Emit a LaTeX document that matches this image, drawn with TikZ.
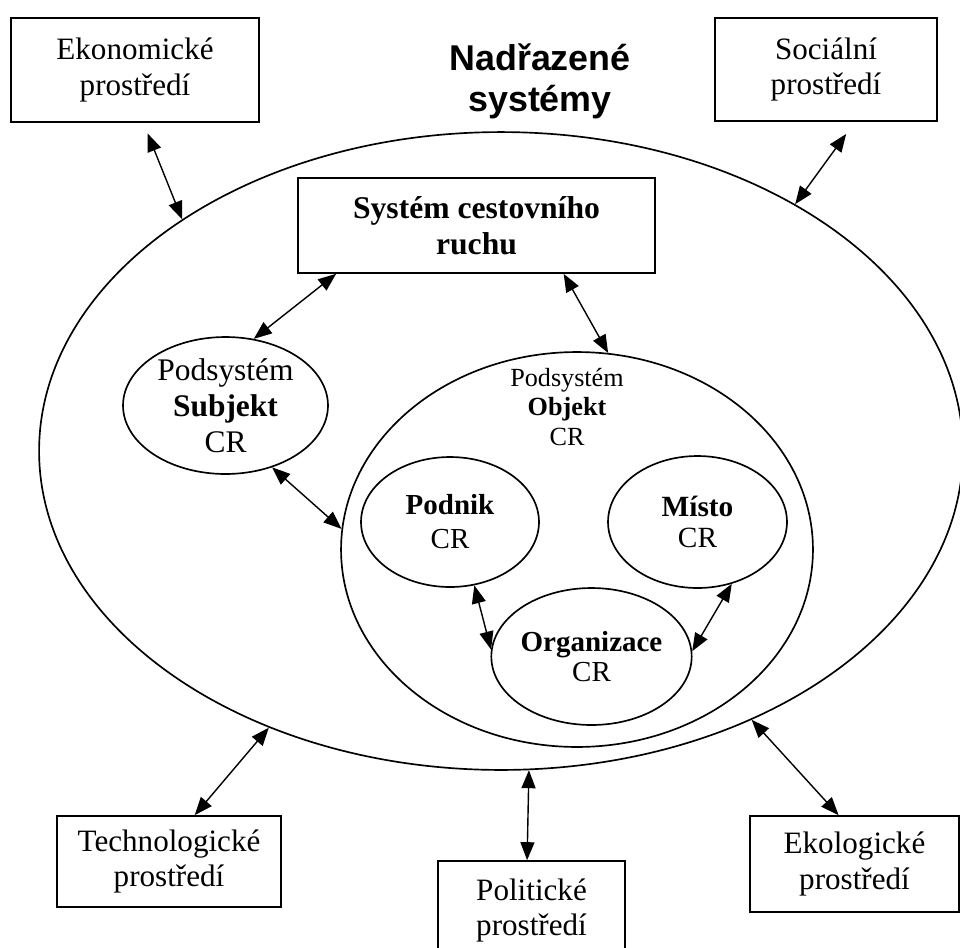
\documentclass[tikz,border=0pt]{standalone}
\usepackage{fontspec}
\setmainfont{Liberation Serif}
\newfontfamily\nadpisfont{Liberation Sans}
\usepackage{tikz}
\usetikzlibrary{arrows.meta}
\usetikzlibrary{shapes,shapes.geometric}

\begin{document}
\begin{tikzpicture}[x=0.02cm,y=-0.02cm,line width=0.95pt,
	>={Triangle[length=0.36cm,width=0.28cm]},
	prostredi/.style={draw,rectangle,align=center,inner sep=0pt,font=\fontsize{17.7}{20.2}\selectfont},
	elipsa/.style={draw,ellipse,inner sep=0pt,align=center},
	vazba/.style={<->,line width=0.8pt}]
			\useasboundingbox (0,0) rectangle (960,947);
			% nadrazene systemy
			\node[elipsa,minimum width=18.48cm,minimum height=12.76cm] (nadsys) at (501,451) {};
			\node[font=\nadpisfont\bfseries\fontsize{20.4}{23.2}\selectfont,align=center] (nadpis) at (540,81) {Nadřazené\\systémy};
			% prostredi
			\node[prostredi,minimum width=4.96cm,minimum height=2.08cm] (ekon) at (135,70) {Ekonomické\\prostředí};
			\node[prostredi,minimum width=4.44cm,minimum height=2.06cm] (soc) at (826,69.5) {Sociální\\prostředí};
			\node[prostredi,minimum width=4.48cm,minimum height=1.82cm] (techno) at (169,861.5) {Technologické\\prostředí};
			\node[prostredi,minimum width=3.74cm,minimum height=1.98cm] (polit) at (531.5,910.5) {Politické\\prostředí};
			\node[prostredi,minimum width=4.18cm,minimum height=1.92cm] (ekolog) at (854.5,864) {Ekologické\\prostředí};
			% system CR
			\node[prostredi,minimum width=7.14cm,minimum height=1.9cm,font=\bfseries\fontsize{18}{20.4}\selectfont] (system) at (476.5,225.5) {Systém cestovního\\ruchu};
			\node[elipsa,minimum width=4.1cm,minimum height=2.74cm,font=\fontsize{17.9}{20.4}\selectfont] (subjekt) at (225.5,405.5) {Podsystém\\\textbf{Subjekt}\\CR};
			\node[elipsa,minimum width=9.44cm,minimum height=7.9cm] (objekt) at (577,549.5) {};
			\node[font=\fontsize{14.9}{17}\selectfont,align=center] (objtext) at (567,407) {Podsystém\\\textbf{Objekt}\\CR};
			\node[elipsa,minimum width=3.56cm,minimum height=2.6cm,font=\fontsize{16.5}{19.3}\selectfont] (podnik) at (450,522) {\textbf{Podnik}\\CR};
			\node[elipsa,minimum width=3.58cm,minimum height=2.64cm,font=\fontsize{16.7}{17.6}\selectfont] (misto) at (697.5,522) {\textbf{Místo}\\CR};
			\node[elipsa,minimum width=3.82cm,minimum height=2.74cm,font=\fontsize{16.5}{17}\selectfont] (organizace) at (591.5,656.5) {\textbf{Organizace}\\CR};
			% vazby
			\draw[vazba,shorten <=0.23cm] (ekon.-81.3) -- (nadsys.144.5);
			\draw[vazba,shorten <=0.3cm] (soc.-61.5) -- (nadsys.40.3);
			\draw[vazba] (system.-161.1) -- (subjekt.67.3);
			\draw[vazba] (system.-29.1) -- (objekt.81.4);
			\draw[vazba] (subjekt.-53) -- (objekt.175.2);
			\draw[vazba] (podnik.-69.3) -- (organizace.176.1);
			\draw[vazba] (misto.-61.7) -- (organizace.3.7);
			\draw[vazba] (techno.61.7) -- (nadsys.-130.2);
			\draw[vazba] (polit.95.2) -- (nadsys.-85.4);
			\draw[vazba] (ekolog.108.6) -- (nadsys.-47.5);
\end{tikzpicture}
\end{document}
